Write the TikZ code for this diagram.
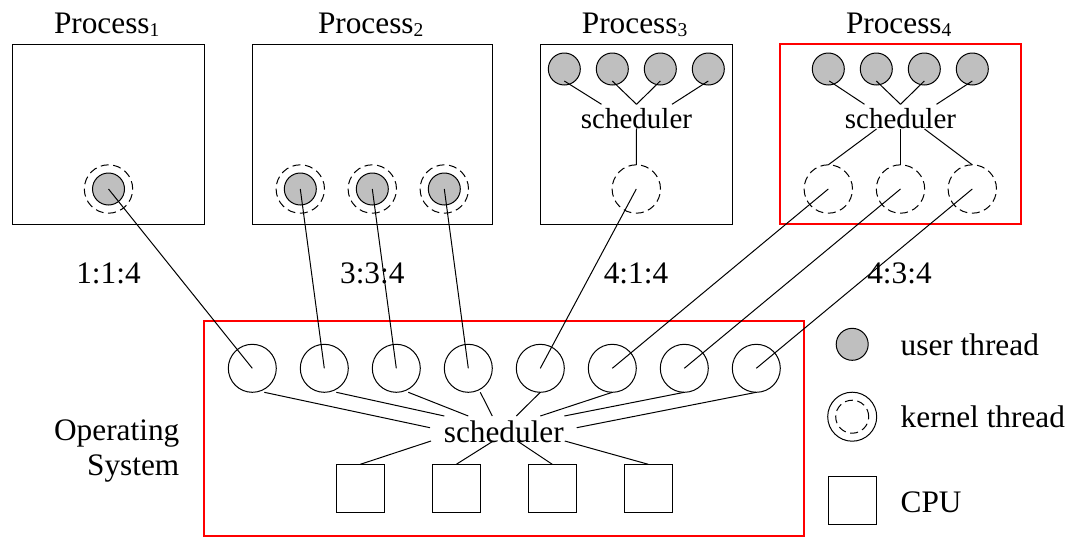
\documentclass[tikz,border=0pt]{standalone}
\usepackage{fontspec}
\setmainfont{Liberation Serif}
\usetikzlibrary{calc}
\definecolor{ufill}{RGB}{191,191,191}
\definecolor{boxred}{RGB}{255,0,0}
\newcommand{\procname}[1]{Process\raisebox{-3pt}{\fontsize{19.5}{19.5}\selectfont #1}}
\begin{document}
\begin{tikzpicture}[x=1pt,y=-1pt,line width=1pt,
  every node/.style={inner sep=0pt,outer sep=0pt},
  txt/.style={font=\fontsize{31.3}{35}\selectfont},
  stxt/.style={font=\fontsize{29}{32}\selectfont},
  uthread/.style={circle,draw,fill=ufill,minimum size=32pt},
  kthread/.style={circle,draw,dash pattern=on 8pt off 4.6pt,minimum size=48.4pt},
  osthread/.style={circle,draw,minimum size=48pt},
  cpubox/.style={rectangle,draw,minimum size=48pt},
  procbox/.style={rectangle,draw,minimum height=180pt},
  redline/.style={draw=boxred,line width=2pt},
  link/.style={draw,line width=1pt}]
\useasboundingbox (0,0) rectangle (1071,536);

% process boxes and labels
\node[procbox,minimum width=192pt] (p1) at (108.3,134.3) {};
\node[procbox,minimum width=240pt] (p2) at (372.3,134.3) {};
\node[procbox,minimum width=192pt] (p3) at (636.2,134.3) {};
\node[procbox,minimum width=240.7pt,redline] (p4) at (900.3,134.3) {};
\node[txt,anchor=base] (l1) at (106.7,33.8) {\procname{1}};
\node[txt,anchor=base] (l2) at (370.7,33.8) {\procname{2}};
\node[txt,anchor=base] (l3) at (634.6,33.8) {\procname{3}};
\node[txt,anchor=base] (l4) at (898.7,33.8) {\procname{4}};

% process 1
\node[kthread] (k11) at (108.5,189) {};
\node[uthread] (u11) at (108.5,189) {};
% process 2
\foreach \i/\x in {1/300.3,2/372.3,3/444.3}{
  \node[kthread] (k2\i) at (\x,189) {};
  \node[uthread] (u2\i) at (\x,189) {};
}
% process 3
\foreach \i/\x in {1/564.3,2/612.3,3/660.3,4/708.3}{
  \node[uthread] (u3\i) at (\x,69) {};
}
\node[stxt,anchor=base] (s3) at (636.5,128.3) {scheduler};
\node[kthread] (k31) at (636.3,189) {};
% process 4
\foreach \i/\x in {1/828.3,2/876.3,3/924.3,4/972.3}{
  \node[uthread] (u4\i) at (\x,69) {};
}
\node[stxt,anchor=base] (s4) at (900.5,128.3) {scheduler};
\foreach \i/\x in {1/828.3,2/900.5,3/972.3}{
  \node[kthread] (k4\i) at (\x,189) {};
}

% ratio labels
\node[txt,anchor=base] (r1) at (108.5,283.5) {1:1:4};
\node[txt,anchor=base] (r2) at (372.3,283.5) {3:3:4};
\node[txt,anchor=base] (r3) at (636,283.5) {4:1:4};
\node[txt,anchor=base] (r4) at (899.5,283.5) {4:3:4};

% operating system
\node[rectangle,redline,minimum width=600.3pt,minimum height=214.8pt] (os) at (504.15,428.1) {};
\node[txt,anchor=base east,align=right] (osl) at (179.3,475) {Operating\\System};
\foreach \i in {1,...,8}{
  \node[osthread] (o\i) at ({252.3+72*(\i-1)},368.3) {};
}
\node[txt,anchor=base] (so) at (503.8,442) {scheduler};
\foreach \i in {1,...,4}{
  \node[cpubox] (c\i) at ({360.3+96*(\i-1)},488.3) {};
}

% legend
\node[uthread] (lu) at (852.2,344.3) {};
\node[txt,anchor=base west] (lut) at (900.7,355.5) {user thread};
\node[osthread,minimum size=49pt] (lk) at (852.2,416.7) {};
\node[circle,draw,dash pattern=on 8pt off 4.6pt,minimum size=33pt] (lki) at (852.2,416.7) {};
\node[txt,anchor=base west] (lkt) at (900.7,427.3) {kernel thread};
\node[cpubox] (lc) at (852.3,500.5) {};
\node[txt,anchor=base west] (lct) at (900.7,512.6) {CPU};

% process 3 connectors
\draw[link] ($(u31.center)+(0,12)$) -- ($(s3.base)+(-35,-24)$);
\draw[link] ($(u32.center)+(0,12)$) -- ($(s3.base)+(0,-24)$);
\draw[link] ($(u33.center)+(0,12)$) -- ($(s3.base)+(0,-24)$);
\draw[link] ($(u34.center)+(0,12)$) -- ($(s3.base)+(35.5,-24)$);
\draw[link] (s3.base) -- (k31.north);
% process 4 connectors
\draw[link] ($(u41.center)+(1,12)$) -- ($(s4.base)+(-36,-24)$);
\draw[link] ($(u42.center)+(0,12)$) -- ($(s4.base)+(0,-24)$);
\draw[link] ($(u43.center)+(0,12)$) -- ($(s4.base)+(0,-24)$);
\draw[link] ($(u44.center)+(0,12)$) -- ($(s4.base)+(36,-24)$);
\draw[link] ($(s4.base)+(-24,0.7)$) -- (k41.north);
\draw[link] ($(s4.base)+(0,0.7)$) -- (k42.north);
\draw[link] ($(s4.base)+(24,0.7)$) -- (k43.north);

% mapping connectors
\draw[link] (u11.center) -- (o1.center);
\draw[link] (u21.center) -- (o2.center);
\draw[link] (u22.center) -- (o3.center);
\draw[link] (u23.center) -- (o4.center);
\draw[link] (k31.center) -- (o5.center);
\draw[link] (k41.center) -- (o6.center);
\draw[link] (k42.center) -- (o7.center);
\draw[link] (k43.center) -- (o8.center);

% OS scheduler connectors
\draw[link] ($(o1.south)+(12,0)$) -- ($(so.base)+(-73.8,-14.3)$);
\draw[link] ($(o2.south)+(12,0)$) -- ($(so.base)+(-59.5,-26)$);
\draw[link] ($(o3.south)+(12,0)$) -- ($(so.base)+(-35.5,-26)$);
\draw[link] ($(o4.south)+(12,0)$) -- ($(so.base)+(-11.5,-26)$);
\draw[link] (o5.south) -- ($(so.base)+(12.5,-26)$);
\draw[link] (o6.south) -- ($(so.base)+(36.5,-26)$);
\draw[link] (o7.south) -- ($(so.base)+(60.5,-26)$);
\draw[link] (o8.south) -- ($(so.base)+(72.9,-14.3)$);
\draw[link] ($(so.base)+(-72.8,-1)$) -- (c1.north);
\draw[link] ($(so.base)+(-10.5,-1)$) -- (c2.north);
\draw[link] ($(so.base)+(13.5,-1)$) -- (c3.north);
\draw[link] ($(so.base)+(61,-1)$) -- (c4.north);
\end{tikzpicture}
\end{document}
